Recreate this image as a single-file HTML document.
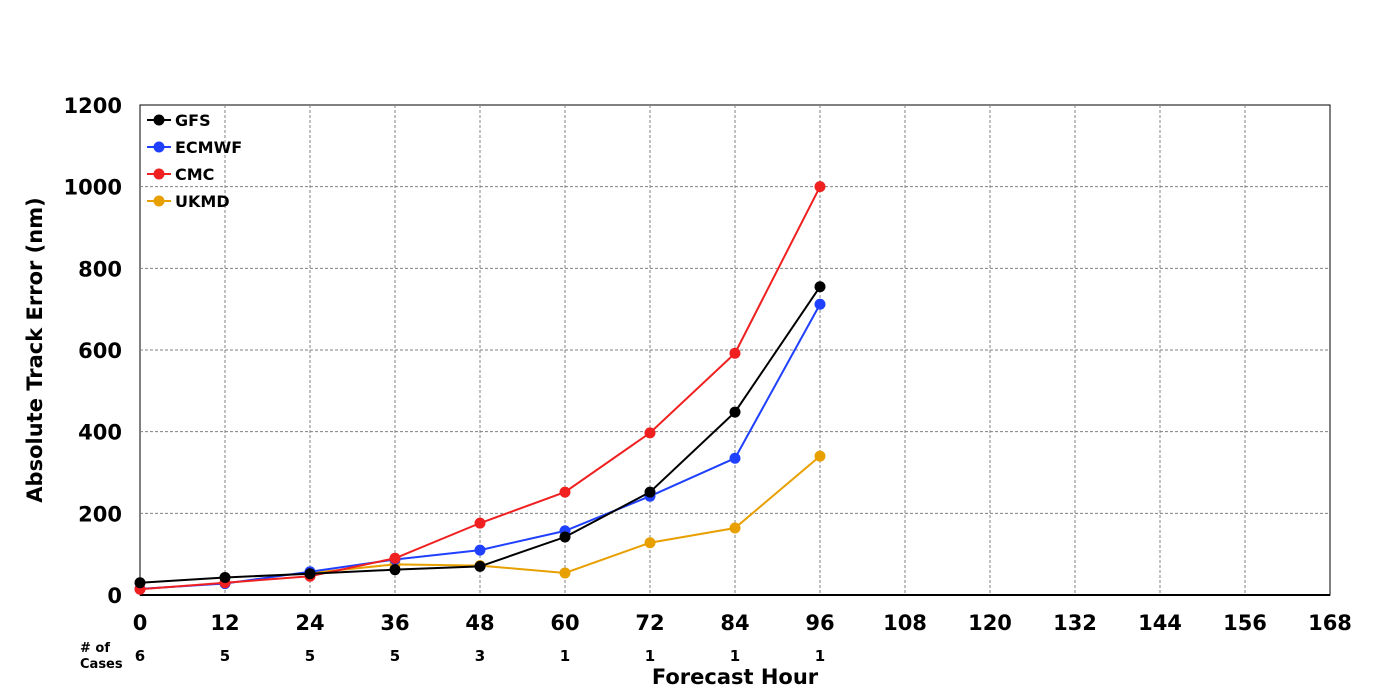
<!DOCTYPE html>
<html><head><meta charset="utf-8"><style>
body{margin:0;background:#fff;}
svg{display:block;font-family:"DejaVu Sans","Liberation Sans",sans-serif;font-weight:bold;}
</style></head><body>
<svg id="chart" width="1400" height="700"></svg>
<script>
const hours=[0,12,24,36,48,60,72,84,96];
const xTicks=[0,12,24,36,48,60,72,84,96,108,120,132,144,156,168];
const yTicks=[0,200,400,600,800,1000,1200];
const cases=[6,5,5,5,3,1,1,1,1];
const seriesNames=["UKMD","ECMWF","CMC","GFS"];
const gfs=[30,43,52,62,70,142,252,448,755];
const ecmwf=[15,28,57,87,110,157,242,335,712];
const cmc=[14,30,46,90,176,252,397,592,1000];
const ukmd=[null,null,54,75,72,54,128,164,340];
const colors={GFS:"#000000",ECMWF:"#2040ff",CMC:"#f02020",UKMD:"#e8a000"};
const data={GFS:gfs,ECMWF:ecmwf,CMC:cmc,UKMD:ukmd};
const X0=140,X1=1330,Y0=595,Y1=105;
const x=h=>X0+(h-0)/168*(X1-X0);
const y=v=>Y0-v/1200*(Y0-Y1);
const svg=document.getElementById('chart');
const NS="http://www.w3.org/2000/svg";
function mk(t,a,p){const e=document.createElementNS(NS,t);for(const k in a)e.setAttribute(k,a[k]);(p||svg).appendChild(e);return e;}
const plot=mk('rect',{x:X0,y:Y1,width:X1-X0,height:Y0-Y1,fill:'#fff',stroke:'#000','stroke-width':1});


xTicks.forEach(h=>{
  if(h>0&&h<168){const g=mk('line',{x1:x(h),x2:x(h),y1:Y1,y2:Y0,stroke:'#808080','stroke-dasharray':'3,2'});
  
  }
  const t=mk('text',{x:x(h),y:630,'text-anchor':'middle','font-size':21});t.textContent=h;
  
  
});
yTicks.forEach(v=>{
  if(v>0&&v<1200){const g=mk('line',{x1:X0,x2:X1,y1:y(v),y2:y(v),stroke:'#808080','stroke-dasharray':'3,2'});
  
  }
  const t=mk('text',{x:122,y:y(v)+8,'text-anchor':'end','font-size':21});t.textContent=v;
  
  
});
const ax=mk('line',{x1:X0,x2:X1,y1:Y0,y2:Y0,stroke:'#000','stroke-width':2});


cases.forEach((c,i)=>{const t=mk('text',{x:x(hours[i]),y:661,'text-anchor':'middle','font-size':15});t.textContent=c;
  
  });
const cl=mk('text',{x:80,y:652,'font-size':13});cl.textContent='# of';


const cl2=mk('text',{x:80,y:668,'font-size':13});cl2.textContent='Cases';


const xt=mk('text',{x:735,y:684,'text-anchor':'middle','font-size':21});xt.textContent='Forecast Hour';


const yt=mk('text',{x:0,y:0,'text-anchor':'middle','font-size':21,transform:'translate(42,350) rotate(-90)'});yt.textContent='Absolute Track Error (nm)';


seriesNames.forEach(n=>{
  const vals=data[n];const pts=[];
  vals.forEach((v,i)=>{if(v!==null)pts.push([x(hours[i]),y(v)]);});
  const g=mk('g',{});
  
  
  const pl=mk('polyline',{points:pts.map(p=>p.join(',')).join(' '),fill:'none',stroke:colors[n],'stroke-width':2},g);
  
  
  pts.forEach(p=>{const c=mk('circle',{cx:p[0],cy:p[1],r:5.5,fill:colors[n]},g);
    
    });
});
["GFS","ECMWF","CMC","UKMD"].forEach((n,i)=>{
  const yy=120+i*27;
  const g=mk('g',{});
  
  
  mk('line',{x1:147,x2:171,y1:yy,y2:yy,stroke:colors[n],'stroke-width':2},g);
  mk('circle',{cx:159,cy:yy,r:5.5,fill:colors[n]},g);
  const t=mk('text',{x:175,y:yy+6,'font-size':16},g);t.textContent=n;
});
</script>
</body></html>
